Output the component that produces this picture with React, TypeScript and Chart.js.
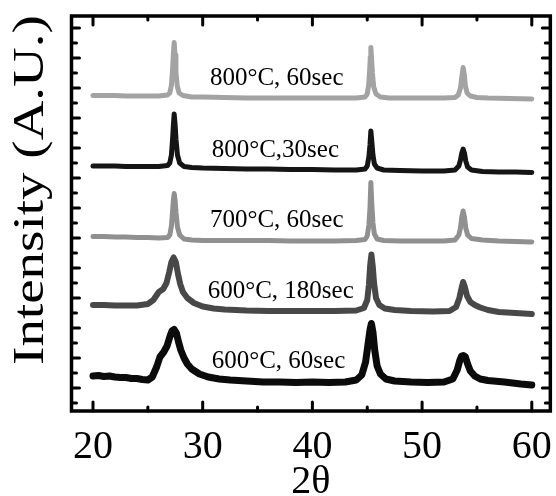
import { useEffect, useRef } from "react";
import { Chart, registerables } from "chart.js";

Chart.register(...registerables);

const SERIF = "'Liberation Serif', serif";

// Sample legends, drawn next to each pattern
const sampleNames = ["800°C, 60sec", "800°C,30sec", "700°C, 60sec", "600°C, 180sec", "600°C, 60sec"];
const lineColors = ["#a3a3a3", "#151515", "#909090", "#484848", "#0b0b0b"];
const lineWidths = [5, 5, 5, 6, 7];

// Axis texts
const angleTicks = [20, 30, 40, 50, 60];
const angleTitle = "2θ";
const intensityTitle = "Intensity (A.U.)";

// XRD patterns, [2θ, intensity (A.U., stacked)]
const pattern800_60: [number, number][] = [
  [20, 315.5], [21, 315.5], [22, 315.5], [23, 315], [24, 315], [25, 315], [26, 315],
  [26.8, 316], [27.0, 318], [27.15, 326], [27.25, 341], [27.32, 356], [27.4, 368.5],
  [27.48, 356], [27.56, 339], [27.68, 325], [27.85, 318], [28.2, 315.5], [29, 314],
  [30, 314], [32, 313.5], [34, 313], [36, 313], [38, 313], [40, 313], [42, 313], [44, 313],
  [44.8, 314], [45.0, 317], [45.13, 326], [45.22, 341], [45.28, 354], [45.33, 363.5],
  [45.39, 353], [45.47, 338], [45.59, 324], [45.8, 317], [46.2, 314], [47, 313], [48, 313],
  [50, 313], [52, 313], [53.0, 313.5], [53.3, 316], [53.5, 323], [53.63, 335], [53.74, 343.5],
  [53.85, 336], [53.95, 325], [54.1, 318], [54.4, 315], [55, 313.5], [56, 313], [58, 312.5],
  [60, 312],
];

const pattern800_30: [number, number][] = [
  [20, 245], [21, 245], [22, 245], [23, 244.5], [24, 244.5], [25, 244.5], [26, 244.5],
  [26.8, 245.5], [27.0, 248], [27.15, 256], [27.25, 271], [27.33, 286], [27.4, 297],
  [27.48, 287], [27.57, 271], [27.7, 256], [27.9, 248], [28.3, 244.5], [29, 243.5],
  [30, 243], [32, 242.5], [34, 242], [36, 242], [38, 241.5], [40, 241.5], [42, 241], [44, 241],
  [44.8, 242], [45.0, 245], [45.15, 254], [45.25, 266], [45.33, 280], [45.42, 269],
  [45.52, 256], [45.65, 247], [45.9, 243], [46.5, 241], [48, 240.5], [50, 240], [52, 240],
  [53, 241], [53.35, 245], [53.5, 251], [53.62, 258], [53.74, 262], [53.86, 258],
  [53.98, 250], [54.15, 244], [54.5, 241], [55.5, 239.5], [57, 239], [58.5, 239], [60, 238.5],
];

const pattern700_60: [number, number][] = [
  [20, 174.5], [21, 174.5], [22, 174], [23, 174], [24, 173.5], [25, 173.5], [26, 173],
  [26.8, 173.5], [27.0, 176], [27.15, 185], [27.25, 199], [27.33, 211], [27.4, 217.5],
  [27.48, 211], [27.57, 198], [27.7, 184], [27.9, 176], [28.3, 172], [29, 171],
  [30, 170.5], [32, 170.5], [34, 170.5], [36, 170.5], [38, 170], [40, 170], [42, 170],
  [44, 170.5], [44.8, 171.5], [45.0, 175], [45.15, 186], [45.25, 203], [45.33, 228.5],
  [45.42, 206], [45.52, 188], [45.65, 177], [45.9, 172], [46.5, 170.5], [48, 170], [50, 170],
  [52, 170], [53, 171], [53.35, 176], [53.5, 183], [53.62, 194], [53.74, 200], [53.86, 194],
  [53.98, 183], [54.15, 176], [54.5, 172.5], [55.5, 171], [57, 170], [58.5, 169.5], [60, 169],
];

const pattern600_180: [number, number][] = [
  [20, 106], [21, 106], [22, 105.5], [23, 105.5], [24, 105.5], [25, 107], [25.5, 111],
  [26.0, 119], [26.4, 122], [26.7, 128], [26.95, 139], [27.15, 149], [27.35, 153.5],
  [27.55, 149], [27.75, 137], [27.95, 127], [28.2, 119], [28.6, 113], [29.2, 108],
  [30, 104.5], [31, 102.5], [32, 101.5], [34, 100.5], [36, 100], [38, 100], [40, 100],
  [42, 100], [44, 100.5], [44.7, 103], [45.0, 111], [45.15, 126], [45.27, 146], [45.38, 156.5],
  [45.5, 145], [45.62, 128], [45.8, 113], [46.1, 106], [46.6, 102.5], [47.5, 101], [49, 100],
  [51, 99.5], [52.5, 100], [53.1, 104], [53.4, 113], [53.6, 123], [53.74, 129], [53.9, 124],
  [54.1, 115], [54.4, 109], [54.8, 106], [55.3, 103.5], [56, 101], [57, 99], [58.5, 98],
  [60, 97],
];

const pattern600_60: [number, number][] = [
  [20, 35], [20.5, 35.5], [21, 34.5], [21.5, 35], [22, 34], [22.5, 33.5], [23, 33.5], [23.5, 32.5],
  [24, 32.5], [24.5, 31.5], [25, 31], [25.4, 34], [25.8, 44], [26.1, 54], [26.45, 59],
  [26.75, 65], [27.0, 74], [27.2, 80], [27.4, 81.5], [27.6, 78], [27.8, 69], [28.0, 61],
  [28.3, 53], [28.6, 47], [29.0, 42], [29.7, 37], [30.5, 34], [31.5, 32], [32.5, 31],
  [34, 30], [35.5, 29], [37, 29], [38.5, 28.5], [40, 29], [41.5, 28.5], [43, 29], [44.0, 31],
  [44.5, 36], [44.85, 49], [45.1, 69], [45.25, 81], [45.38, 87.5], [45.52, 79], [45.68, 61],
  [45.9, 45], [46.2, 37], [46.7, 32], [47.5, 30], [49, 29], [50.5, 28.5], [52, 29],
  [52.8, 32], [53.2, 41], [53.45, 51], [53.6, 55], [53.75, 55.5], [53.95, 54], [54.15, 47],
  [54.4, 40], [54.8, 35], [55.3, 32], [56, 30.5], [57.5, 29], [59, 27], [60, 26],
];

const patterns = [pattern800_60, pattern800_30, pattern700_60, pattern600_180, pattern600_60];

// Where each legend text starts: [2θ, intensity of its baseline]
const nameAnchors: [number, number][] = [
  [30.66, 326], [30.82, 254.3], [30.66, 184], [30.45, 112.7], [30.82, 42.7],
];

// Intensity axis tick marks (no labels), every other one long
const intensityTicks: number[] = [];
for (let k = 0; k <= 25; k++) intensityTicks.push(8 + 15 * k);

const framePlugin = {
  id: "frameAndNames",
  afterDatasetsDraw(chart: any) {
    const { ctx, chartArea: a, scales } = chart;
    const xs = scales.x;
    const ys = scales.y;
    ctx.save();
    ctx.strokeStyle = "#000";
    ctx.lineCap = "round";
    ctx.lineWidth = 3;
    const seg = (x1: number, y1: number, x2: number, y2: number) => {
      ctx.beginPath();
      ctx.moveTo(x1, y1);
      ctx.lineTo(x2, y2);
      ctx.stroke();
    };
    for (let v = 20; v <= 60; v += 5) {
      const px = xs.getPixelForValue(v);
      const len = v % 10 === 0 ? 9 : 4;
      seg(px, a.bottom, px, a.bottom - len);
      seg(px, a.top, px, a.top + len);
    }
    intensityTicks.forEach((t, k) => {
      const py = ys.getPixelForValue(t);
      const len = k % 2 === 1 ? 8 : 5;
      seg(a.left, py, a.left + len, py);
      seg(a.right, py, a.right - len, py);
    });
    ctx.lineCap = "butt";
    ctx.lineJoin = "miter";
    ctx.lineWidth = 3.5;
    ctx.strokeRect(a.left, a.top, a.right - a.left, a.bottom - a.top);

    ctx.fillStyle = "#000";
    ctx.font = `25px ${SERIF}`;
    ctx.textAlign = "left";
    ctx.textBaseline = "alphabetic";
    sampleNames.forEach((name, i) => {
      const [ax, ay] = nameAnchors[i];
      ctx.fillText(name, xs.getPixelForValue(ax), ys.getPixelForValue(ay));
    });

    // Intensity title, set tall along the axis
    ctx.font = `44px ${SERIF}`;
    ctx.textAlign = "center";
    ctx.textBaseline = "middle";
    ctx.translate(31, 190);
    ctx.rotate(-Math.PI / 2);
    ctx.scale(1.25, 1);
    ctx.fillText(intensityTitle, 0, 0);
    ctx.restore();
  },
};

export default function App() {
  const canvasRef = useRef<HTMLCanvasElement | null>(null);

  useEffect(() => {
    const canvas = canvasRef.current;
    if (!canvas) return;
    const chart = new Chart(canvas, {
      type: "line",
      data: {
        datasets: patterns.map((p, i) => ({
          label: sampleNames[i],
          data: p.map(([x, y]) => ({ x, y })),
          borderColor: lineColors[i],
          borderWidth: lineWidths[i],
          pointRadius: 0,
          tension: 0,
          borderJoinStyle: "round" as const,
          borderCapStyle: "round" as const,
          fill: false,
        })),
      },
      options: {
        responsive: false,
        animation: false,
        events: [],
        layout: { padding: { top: 16, right: 5.5, left: 0, bottom: 0 } },
        plugins: {
          legend: { display: false },
          tooltip: { enabled: false },
        },
        scales: {
          x: {
            type: "linear",
            min: 18.04,
            max: 61.69,
            afterFit: (s: any) => {
              s.height = 85;
            },
            afterBuildTicks: (s: any) => {
              s.ticks = angleTicks.map((v) => ({ value: v }));
            },
            grid: { display: false },
            border: { display: false },
            ticks: {
              color: "#000",
              padding: 4,
              maxRotation: 0,
              font: { family: SERIF, size: 40 },
            },
            title: {
              display: true,
              text: angleTitle,
              color: "#000",
              padding: 0,
              font: { family: SERIF, size: 40, lineHeight: 0.7 },
            },
          },
          y: {
            type: "linear",
            min: 0,
            max: 395,
            afterFit: (s: any) => {
              s.width = 71.5;
            },
            grid: { display: false },
            border: { display: false },
            ticks: { display: false },
            title: { display: false },
          },
        },
      },
      plugins: [framePlugin],
    });
    return () => chart.destroy();
  }, []);

  return (
    <div style={{ position: "fixed", left: 0, top: 0, width: 556, height: 496, background: "#fff" }}>
      <canvas ref={canvasRef} width={556} height={496} />
    </div>
  );
}
